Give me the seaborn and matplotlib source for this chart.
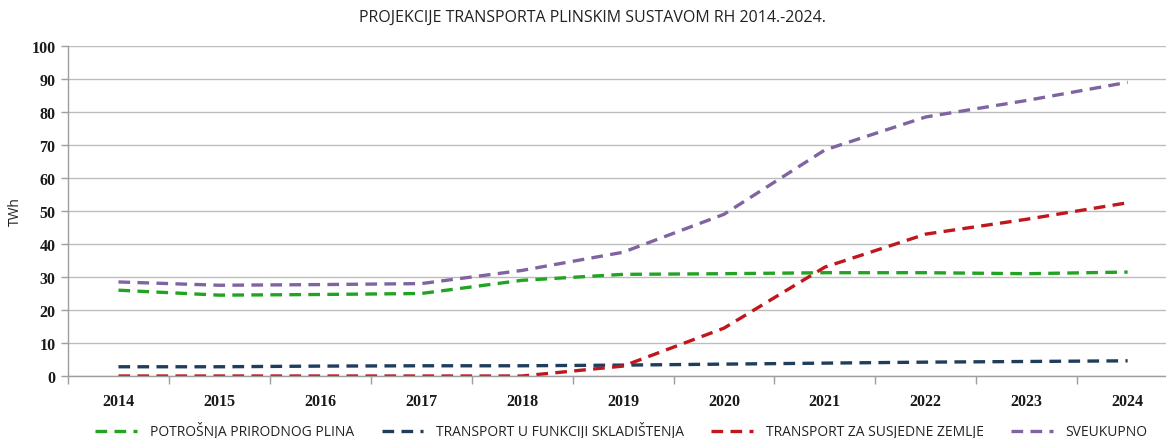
import matplotlib
matplotlib.use("Agg")
import matplotlib.pyplot as plt
import seaborn as sns
import pandas as pd
from matplotlib.ticker import FixedLocator, MultipleLocator

years = ["2014", "2015", "2016", "2017", "2018", "2019", "2020", "2021", "2022", "2023", "2024"]
potrosnja = [26.0, 24.5, 24.7, 25.0, 29.0, 30.8, 31.0, 31.3, 31.3, 31.0, 31.5]
skladistenje = [2.8, 2.8, 3.0, 3.1, 3.1, 3.3, 3.6, 3.9, 4.2, 4.4, 4.6]
susjedne = [0.0, 0.0, 0.0, 0.0, 0.0, 3.0, 14.5, 33.0, 43.0, 47.5, 52.5]
ukupno = [28.5, 27.5, 27.7, 28.0, 32.0, 37.5, 49.0, 68.5, 78.5, 83.5, 89.0]

series_names = ["POTROŠNJA PRIRODNOG PLINA", "TRANSPORT U FUNKCIJI SKLADIŠTENJA",
                "TRANSPORT ZA SUSJEDNE ZEMLJE", "SVEUKUPNO"]
series_values = [potrosnja, skladistenje, susjedne, ukupno]
colors = ["#23A323", "#1F3D5C", "#C0161C", "#8064A2"]
title = "PROJEKCIJE TRANSPORTA PLINSKIM SUSTAVOM RH 2014.-2024."
ylabel = "TWh"

rows = []
for name, vals in zip(series_names, series_values):
    for i, v in enumerate(vals):
        rows.append({"idx": i, "value": v, "series": name})
df = pd.DataFrame(rows)

sns.set_theme(style="white")
plt.rcParams["font.family"] = ["Open Sans", "DejaVu Sans"]

fig = plt.figure(figsize=(11.66, 4.39), dpi=100)
ax = fig.add_axes([68 / 1166, 1 - 377 / 439, 1 - 68 / 1166, (377 - 47) / 439])

dash = (3.5, 2.2)
sns.lineplot(data=df, x="idx", y="value", hue="series", style="series",
             hue_order=series_names, style_order=series_names,
             palette=dict(zip(series_names, colors)),
             dashes={n: dash for n in series_names},
             linewidth=2.4, ax=ax, legend=True)

ax.set_xlim(-0.5, 10.38)
ax.set_ylim(0, 100)
ax.yaxis.set_major_locator(MultipleLocator(10))
ax.grid(axis="y", color="#BDBDBD", linewidth=1.0)
ax.set_axisbelow(True)

ax.set_xticks(range(len(years)))
ax.set_xticklabels(years)
ax.xaxis.set_minor_locator(FixedLocator([i - 0.5 for i in range(len(years) + 1)]))
ax.tick_params(axis="x", which="major", length=0, pad=12)
ax.tick_params(axis="x", which="minor", length=6, width=1, color="#9E9E9E", direction="out", bottom=True)
ax.tick_params(axis="y", which="major", length=5, width=1, color="#9E9E9E", direction="out", left=True, pad=4)

for lab in ax.get_xticklabels() + ax.get_yticklabels():
    lab.set_fontfamily("Liberation Serif")
    lab.set_fontweight("bold")
    lab.set_fontsize(11.5)
    lab.set_color("#1a1a1a")

for s in ["top", "right"]:
    ax.spines[s].set_visible(False)
for s in ["left", "bottom"]:
    ax.spines[s].set_color("#9E9E9E")
    ax.spines[s].set_linewidth(1.0)

ax.set_xlabel("")
ax.set_ylabel(ylabel, fontsize=10, color="#222222", labelpad=6)

fig.text(0.508, 1 - 18 / 439, title, ha="center", va="center", fontsize=11.5, color="#222222")

handles, labels = ax.get_legend_handles_labels()
ax.get_legend().remove()
fig.legend(handles, labels, loc="center", bbox_to_anchor=(0.533, 1 - 432 / 439),
           ncol=4, frameon=False, fontsize=10, handlelength=3.0, columnspacing=2.0,
           handletextpad=0.9, labelcolor="#222222")

fig.savefig("out.png", dpi=100)
